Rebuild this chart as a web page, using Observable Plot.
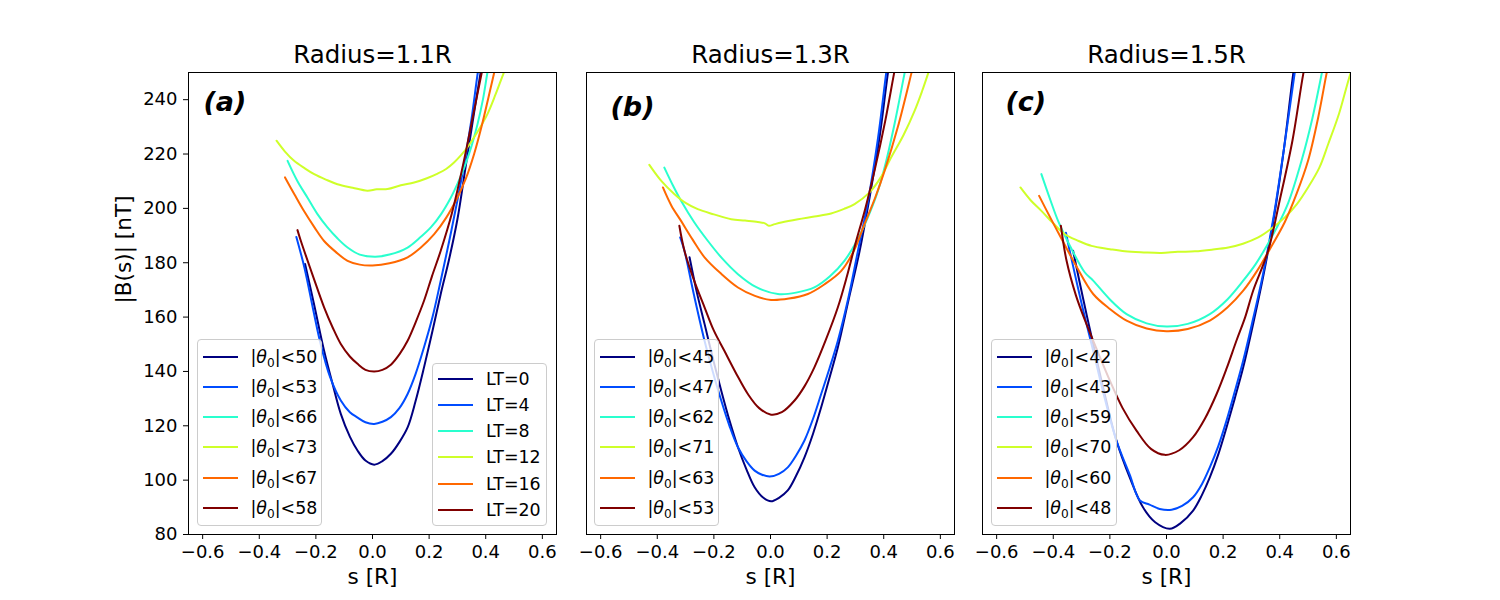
<!DOCTYPE html>
<html><head><meta charset="utf-8">
<script src="https://cdn.jsdelivr.net/npm/d3@7"></script>
<script src="https://cdn.jsdelivr.net/npm/@observablehq/plot@0.6"></script>
<style>
body{margin:0;background:#fff;}
#fig{position:relative;width:1500px;height:600px;font-family:"DejaVu Sans",sans-serif;color:#000;}
.panel{position:absolute;top:0;}
.leg{position:absolute;background:rgba(255,255,255,0.8);border:1px solid #cccccc;border-radius:4px;box-sizing:border-box;}
.row{position:absolute;left:0;width:100%;height:20px;font-size:17.4px;white-space:nowrap;}
.sw{position:absolute;left:5px;top:9px;width:35px;height:2px;}
.lab{position:absolute;left:53px;top:0;line-height:20px;}
.lab sub{font-size:70%;vertical-align:-0.3em;line-height:0;}
</style></head><body><div id="fig"></div>
<script>
// ---------- data ----------
const colors = ["#000080", "#004cff", "#29ffce", "#ceff29", "#ff6800", "#800000"];
const ltLabels = ["LT=0", "LT=4", "LT=8", "LT=12", "LT=16", "LT=20"];
const titles = ["Radius=1.1R", "Radius=1.3R", "Radius=1.5R"];
const tags = ["(a)", "(b)", "(c)"];
const thetaA = [50, 53, 66, 73, 67, 58];
const thetaB = [45, 47, 62, 71, 63, 53];
const thetaC = [42, 43, 59, 70, 60, 48];
const xTicks = [-0.6, -0.4, -0.2, 0.0, 0.2, 0.4, 0.6];
const yTicks = [80, 100, 120, 140, 160, 180, 200, 220, 240];
const xLabel = "s [R]";
const yLabel = "|B(s)| [nT]";

// panel (a) : [s, |B|]
const a_LT0 = [[-0.238,179.5],[-0.205,164],[-0.171,147.6],[-0.14,135],[-0.112,124.4],[-0.08,116],[-0.053,110.9],[-0.025,107.2],[0.006,105.7],[0.035,107],[0.065,109.7],[0.095,114],[0.124,119.4],[0.152,129],[0.182,141.5],[0.212,155],[0.241,168.5],[0.27,181],[0.3,196],[0.33,216],[0.36,236],[0.385,252],[0.40,262]];
const a_LT4 = [[-0.269,189.5],[-0.24,178],[-0.21,163],[-0.183,150],[-0.15,138],[-0.112,129.3],[-0.08,125],[-0.054,123.1],[-0.025,121.3],[0.006,120.7],[0.035,121.5],[0.065,123.2],[0.095,126.5],[0.124,131.7],[0.152,139],[0.182,148.9],[0.212,160],[0.241,173.4],[0.271,188],[0.3,203],[0.33,220],[0.35,233],[0.372,250],[0.39,262]];
const a_LT8 = [[-0.30,217.5],[-0.265,210],[-0.23,204],[-0.195,198],[-0.159,193],[-0.124,189],[-0.088,185.6],[-0.045,183],[0.01,182.2],[0.06,183],[0.124,185.6],[0.165,189],[0.206,193],[0.243,198],[0.277,204],[0.30,209],[0.324,215],[0.35,223],[0.371,231],[0.39,240],[0.406,250],[0.42,258]];
const a_LT12 = [[-0.339,224.9],[-0.31,221],[-0.277,217.5],[-0.24,214.8],[-0.206,212.6],[-0.165,210.6],[-0.124,208.9],[-0.07,207.6],[-0.018,206.5],[0.015,207],[0.053,207.1],[0.1,208.5],[0.147,209.5],[0.19,211],[0.23,212.8],[0.26,214.5],[0.288,216.9],[0.312,219.5],[0.336,222.6],[0.37,228],[0.406,234.7],[0.435,242],[0.463,249.7],[0.48,254]];
const a_LT16 = [[-0.309,211.4],[-0.275,205],[-0.242,199],[-0.205,193],[-0.171,188],[-0.13,184],[-0.088,180.7],[-0.045,179.3],[0,179],[0.06,179.8],[0.124,182],[0.17,185.5],[0.218,190.5],[0.26,196.5],[0.3,204],[0.33,211],[0.359,220],[0.385,230],[0.41,241],[0.43,250],[0.445,257]];
const a_LT20 = [[-0.265,192],[-0.253,188],[-0.21,175],[-0.171,163.6],[-0.14,156],[-0.112,150.1],[-0.08,145.5],[-0.053,142.8],[-0.025,140.6],[0.006,140],[0.035,140.6],[0.065,142.5],[0.095,146.3],[0.124,151.3],[0.152,158],[0.182,166],[0.21,175],[0.241,184.4],[0.28,198],[0.324,218],[0.355,234],[0.386,250],[0.40,257]];

// panel (b)
const b_LT0 = [[-0.286,182],[-0.26,169],[-0.233,157.5],[-0.204,145],[-0.174,132.9],[-0.145,122],[-0.115,112.1],[-0.085,104],[-0.056,97.4],[-0.025,93.5],[0.002,92.2],[0.03,93.5],[0.061,96.2],[0.09,101.5],[0.12,108.4],[0.15,117],[0.179,126.8],[0.208,137.5],[0.238,148.9],[0.275,166],[0.315,184.4],[0.35,204],[0.385,226],[0.415,250],[0.43,260]];
const b_LT4 = [[-0.319,189.3],[-0.304,184.4],[-0.27,168],[-0.233,151.3],[-0.204,140],[-0.174,129.3],[-0.145,120],[-0.115,112.1],[-0.085,107],[-0.056,103.5],[-0.03,102],[-0.003,101.3],[0.03,102.3],[0.061,104.7],[0.09,109],[0.12,114.6],[0.15,122.5],[0.179,131.7],[0.208,141],[0.238,151.3],[0.275,167],[0.309,184.4],[0.345,203],[0.38,226],[0.409,250],[0.425,262]];
const b_LT8 = [[-0.375,215],[-0.345,208.5],[-0.316,202.8],[-0.27,195],[-0.221,188],[-0.17,181.5],[-0.115,175.8],[-0.05,171],[0.026,168.5],[0.09,169],[0.155,170.9],[0.21,175],[0.261,180.7],[0.305,188],[0.344,196.7],[0.375,205],[0.403,215],[0.44,232],[0.473,249.4],[0.49,258]];
const b_LT12 = [[-0.428,216],[-0.385,210],[-0.339,205.2],[-0.3,202],[-0.257,199.7],[-0.2,197.8],[-0.139,196],[-0.09,195.5],[-0.045,195],[-0.02,194.5],[-0.006,193.6],[0.015,194.2],[0.038,194.8],[0.097,196],[0.155,197],[0.214,198.1],[0.26,199.8],[0.297,201.6],[0.35,205.9],[0.39,211.5],[0.426,218.7],[0.47,227],[0.509,235.9],[0.535,243],[0.556,249.4],[0.57,254]];
const b_LT16 = [[-0.38,207.7],[-0.35,201],[-0.316,195.4],[-0.275,188.5],[-0.233,182],[-0.175,176],[-0.115,170.9],[-0.055,167.8],[0.002,166.3],[0.065,166.8],[0.132,168.5],[0.19,172],[0.25,177],[0.295,184.5],[0.332,194.2],[0.37,204],[0.403,213.8],[0.45,230],[0.497,249.4],[0.51,255]];
const b_LT20 = [[-0.322,193.6],[-0.304,184.4],[-0.27,173.5],[-0.233,163.6],[-0.2,155],[-0.163,147.6],[-0.12,139],[-0.08,131.7],[-0.04,126.5],[0.002,124.1],[0.04,125],[0.085,129.3],[0.12,134.5],[0.155,141.5],[0.195,151.5],[0.238,163.6],[0.27,175],[0.3,187],[0.335,200],[0.37,215],[0.405,232],[0.436,249.4],[0.45,257]];

// panel (c)
const c_LT0 = [[-0.33,184.4],[-0.295,167],[-0.259,150.1],[-0.218,131.5],[-0.177,114.6],[-0.13,101],[-0.083,90],[-0.04,84.5],[0.012,82.1],[0.05,84.2],[0.094,88.8],[0.125,94.5],[0.153,101],[0.183,109.5],[0.212,119.4],[0.241,130],[0.271,141.5],[0.305,157],[0.341,174.6],[0.38,197],[0.415,222],[0.447,249],[0.46,258]];
const c_LT4 = [[-0.355,191],[-0.342,184.4],[-0.3,165],[-0.259,147.6],[-0.218,130],[-0.177,114.6],[-0.13,102],[-0.094,92.5],[-0.06,91],[-0.024,89.4],[0.018,89.1],[0.055,90.5],[0.094,93.7],[0.125,98.5],[0.153,104.7],[0.183,112.5],[0.212,121.9],[0.241,132.5],[0.271,144],[0.305,159],[0.341,175.8],[0.38,198],[0.415,222],[0.453,250],[0.465,258]];
const c_LT8 = [[-0.442,212.6],[-0.41,203],[-0.383,195.4],[-0.34,186],[-0.289,176.5],[-0.259,173.4],[-0.2,166.5],[-0.141,161.1],[-0.07,157.7],[0,156.5],[0.075,157.5],[0.153,161.1],[0.215,166.5],[0.271,173.4],[0.315,179.5],[0.353,186],[0.39,193],[0.43,202],[0.477,217.5],[0.515,233],[0.548,249.4],[0.56,256]];
const c_LT12 = [[-0.516,207.7],[-0.48,203],[-0.442,199.1],[-0.4,194.5],[-0.359,190.5],[-0.31,188],[-0.265,186.2],[-0.2,185],[-0.147,184.2],[-0.08,183.8],[-0.018,183.6],[0.04,184],[0.1,184.2],[0.16,184.8],[0.218,185.6],[0.27,187],[0.324,189.3],[0.37,192.5],[0.418,196.7],[0.46,201.5],[0.5,207.7],[0.54,215],[0.571,223.6],[0.61,235],[0.642,246.9],[0.66,253]];
const c_LT16 = [[-0.45,204.6],[-0.41,196.5],[-0.377,190],[-0.32,179],[-0.259,168.5],[-0.2,163],[-0.141,158.7],[-0.07,155.8],[0,154.8],[0.075,155.6],[0.153,158.7],[0.215,163.5],[0.271,169.7],[0.32,177],[0.365,185],[0.418,195],[0.46,205.5],[0.5,217.5],[0.535,233],[0.565,249.4],[0.58,257]];
const c_LT20 = [[-0.373,193.6],[-0.353,180.7],[-0.32,168],[-0.283,157.5],[-0.24,146.5],[-0.2,136.6],[-0.155,126.5],[-0.106,118.2],[-0.055,111.5],[-0.006,109.3],[0.045,111],[0.094,115.8],[0.135,122.5],[0.177,131.7],[0.212,141],[0.247,151.3],[0.278,160],[0.306,169.7],[0.359,184.4],[0.4,203],[0.445,225],[0.483,249.4],[0.5,258]];

// ---------- drawing ----------
const fig = document.getElementById("fig");
const fmt = d3.format(".1f");

function makePanel(curves, title, tag, o) {
  const marks = [
    ...curves.map((c, i) => Plot.line(c, {x: d => d[0], y: d => d[1], stroke: colors[i], strokeWidth: 2, curve: "catmull-rom", clip: true})),
    Plot.frame({stroke: "black", strokeWidth: 1}),
    Plot.axisX(xTicks, {tickSize: 5, tickPadding: 6, tickFormat: fmt, fontSize: 18, label: null}),
    Plot.text([title], {text: d => d, frameAnchor: "top", lineAnchor: "middle", dy: -17, fontSize: 24.5}),
    Plot.text([xLabel], {text: d => d, frameAnchor: "bottom", lineAnchor: "middle", dy: 43, fontSize: 21.6}),
    Plot.text([tag], {text: d => d, frameAnchor: "top-left", lineAnchor: "middle", dx: o.tagDx, dy: o.tagDy, fontSize: 27, fontWeight: "bold", fontStyle: "italic", textAnchor: "start"})
  ];
  if (o.yAxis) {
    marks.push(
      Plot.axisY(yTicks, {tickSize: 5, tickPadding: 6, fontSize: 18, label: null}),
      Plot.text([yLabel], {text: d => d, frameAnchor: "left", lineAnchor: "middle", dx: -64, rotate: -90, fontSize: 21.6})
    );
  }
  const svg = Plot.plot({
    width: o.width, height: 600,
    marginLeft: o.ml, marginRight: o.mr, marginTop: 72, marginBottom: 66,
    x: {domain: [-0.65, 0.65]},
    y: {domain: [80, 250], axis: o.yAxis ? undefined : null},
    style: {fontFamily: "DejaVu Sans", fontSize: "18px", color: "black", background: "transparent", overflow: "visible"},
    marks
  });
  svg.classList.add("panel");
  svg.style.left = o.left + "px";
  fig.appendChild(svg);
}

function makeLegend(left, top, w, h, labels, first, step, theta) {
  const box = document.createElement("div");
  box.className = "leg";
  Object.assign(box.style, {left: left + "px", top: top + "px", width: w + "px", height: h + "px"});
  labels.forEach((lab, i) => {
    const row = document.createElement("div");
    row.className = "row";
    row.style.top = (first + i * step - 10) + "px";
    const sw = document.createElement("div");
    sw.className = "sw";
    sw.style.background = colors[i];
    const t = document.createElement("div");
    t.className = "lab";
    if (theta) t.innerHTML = "|<i>θ</i><sub>0</sub>|&lt;" + lab;
    else t.textContent = lab;
    row.appendChild(sw); row.appendChild(t);
    box.appendChild(row);
  });
  fig.appendChild(box);
}

makePanel([a_LT0, a_LT4, a_LT8, a_LT12, a_LT16, a_LT20], titles[0], tags[0], {left: 0, width: 570, ml: 188, mr: 14, yAxis: true, tagDx: 15, tagDy: 30});
makePanel([b_LT0, b_LT4, b_LT8, b_LT12, b_LT16, b_LT20], titles[1], tags[1], {left: 570, width: 400, ml: 16, mr: 16, yAxis: false, tagDx: 24, tagDy: 35});
makePanel([c_LT0, c_LT4, c_LT8, c_LT12, c_LT16, c_LT20], titles[2], tags[2], {left: 970, width: 400, ml: 12, mr: 20, yAxis: false, tagDx: 23, tagDy: 30});

makeLegend(196.5, 339, 125, 187, thetaA, 16.5, 30.3, true);
makeLegend(432, 363, 115, 163, ltLabels, 14.5, 26.3, false);
makeLegend(593.5, 339, 125, 187, thetaB, 16.5, 30.3, true);
makeLegend(990.5, 339, 126, 187, thetaC, 16.5, 30.3, true);
</script></body></html>
